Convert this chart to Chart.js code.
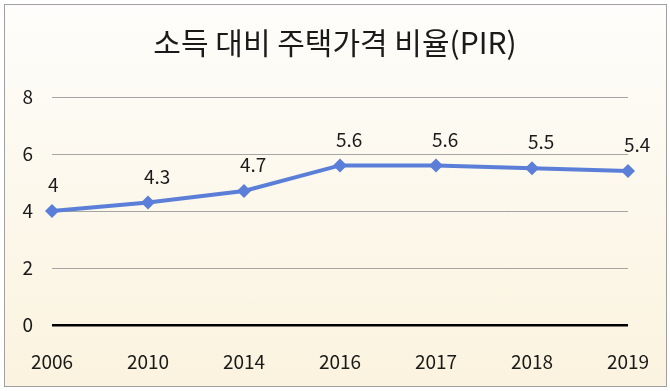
<!DOCTYPE html>
<html>
<head>
<meta charset="utf-8">
<script src="https://cdn.jsdelivr.net/npm/chart.js@4"></script>
<style>
  html, body { margin: 0; padding: 0; background: #ffffff; }
  #wrap {
    position: relative;
    width: 670px;
    height: 391px;
  }
  #frame {
    position: absolute;
    left: 4px; top: 4px; width: 661px; height: 381px;
    border: 1px solid #a0a0a0;
    background: linear-gradient(to bottom, #fefdfb 0%, #fcf8ec 50%, #fbf3df 100%);
  }
  canvas { position: absolute; left: 0; top: 0; }
</style>
</head>
<body>
<div id="wrap">
  <div id="frame"></div>
  <canvas id="GraficoPIR" width="670" height="391"></canvas>
</div>
<script>
const anos = ['2006', '2010', '2014', '2016', '2017', '2018', '2019'];
const valoresPIR = [4, 4.3, 4.7, 5.6, 5.6, 5.5, 5.4];
const rotulos = ['4', '4.3', '4.7', '5.6', '5.6', '5.5', '5.4'];
const tituloGrafico = '소득 대비 주택가격 비율(PIR)';

const fonteBase = "'Noto Sans CJK KR', 'Noto Sans', sans-serif";
const corLinha = "#5b7fd8";

// rótulos de valor acima de cada ponto
const rotulosPlugin = {
  id: "rotulosPlugin",
  afterDatasetsDraw(chart) {
    const ctx = chart.ctx;
    const meta = chart.getDatasetMeta(0);
    ctx.save();
    ctx.font = "19px " + fonteBase;
    ctx.fillStyle = "#1a1a1a";
    ctx.textAlign = "left";
    ctx.textBaseline = "middle";
    meta.data.forEach(function (pt, i) {
      ctx.fillText(rotulos[i], pt.x - 4, pt.y - 26);
    });
    ctx.restore();
  }
};

new Chart(document.getElementById("GraficoPIR"), {
  type: "line",
  data: {
    labels: anos,
    datasets: [
      {
        label: "PIR",
        data: valoresPIR,
        borderColor: corLinha,
        backgroundColor: corLinha,
        borderWidth: 4,
        pointStyle: "rectRot",
        pointRadius: 7,
        pointHoverRadius: 7,
        pointBorderWidth: 0,
        tension: 0,
      }
    ],
  },
  options: {
    responsive: false,
    animation: false,
    layout: {
      padding: { left: 0, right: 0, top: 0, bottom: 19 },
    },
    scales: {
      x: {
        offset: false,
        // grade escondida, mas o tickLength empurra os rótulos para baixo
        grid: { display: false, drawTicks: true, tickLength: 22.5 },
        border: { display: false },
        ticks: {
          color: "#1a1a1a",
          padding: 3,
          font: { size: 19, family: fonteBase },
          maxRotation: 0,
        },
        afterFit: function (axis) { axis.height = 47; },
      },
      y: {
        min: 0,
        max: 8,
        ticks: {
          stepSize: 2,
          color: "#1a1a1a",
          padding: 19,
          font: { size: 19, family: fonteBase },
        },
        grid: {
          drawTicks: false,
          color: function (c) { return c.tick && c.tick.value === 0 ? "#000000" : "#a6a6a6"; },
          lineWidth: function (c) { return c.tick && c.tick.value === 0 ? 2.5 : 1; },
        },
        border: { display: false },
        afterFit: function (axis) { axis.width = 52; },
      },
      // eixo vazio à direita só para reservar espaço (título fica centrado)
      yDireita: {
        position: "right",
        min: 0,
        max: 8,
        ticks: { display: false },
        grid: { display: false, drawTicks: false },
        border: { display: false },
        afterFit: function (axis) { axis.width = 42; },
      },
    },
    plugins: {
      legend: { display: false },
      tooltip: { enabled: false },
      title: {
        display: true,
        text: tituloGrafico,
        color: "#1a1a1a",
        font: { size: 30, weight: "normal", family: fonteBase },
        padding: { top: 25, bottom: 36 },
      },
    },
  },
  plugins: [rotulosPlugin],
});
</script>
</body>
</html>
